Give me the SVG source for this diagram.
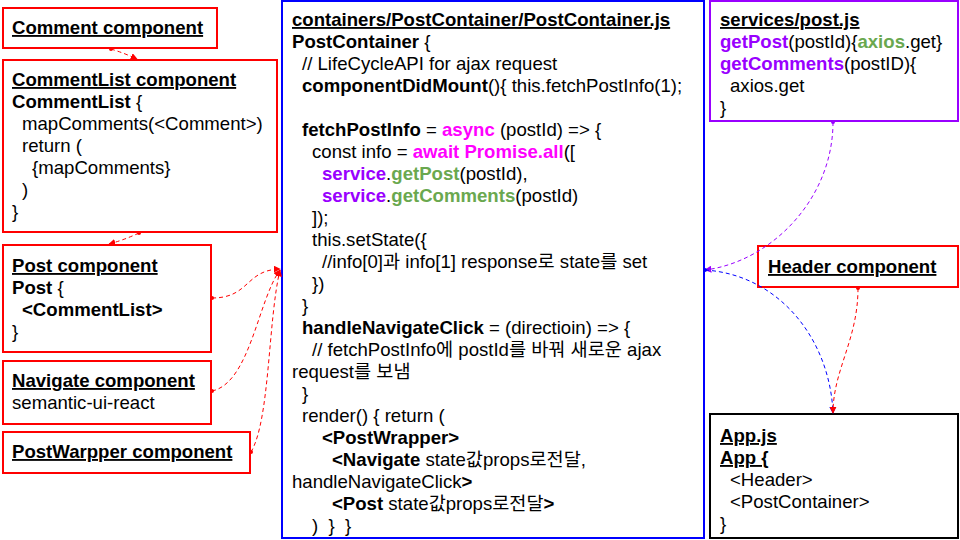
<svg xmlns="http://www.w3.org/2000/svg" width="960" height="540" viewBox="0 0 960 540">
<defs>
<style>
text{font-family:"Liberation Sans","Noto Sans CJK KR",Arial,sans-serif;font-size:18.6px;fill:#000}
.b{font-weight:bold}
.u{text-decoration:underline}
.mg{fill:#ff00ff;font-weight:bold}
.pu{fill:#9900ff;font-weight:bold}
.gr{fill:#6aa84f;font-weight:bold}
.box{fill:#fff;stroke-width:2}
.red{stroke:#ff0000}
.blue{stroke:#0000ff}
.purp{stroke:#9900ff}
.blk{stroke:#000}
.c{fill:none;stroke-width:1;stroke-dasharray:4,3}
</style>
<marker id="ar" viewBox="0 0 10 10" refX="9" refY="5" markerWidth="7" markerHeight="7" orient="auto"><path d="M0,0L10,5L0,10z" fill="#ff0000"/></marker>
<marker id="dr" viewBox="0 0 10 10" refX="5" refY="5" markerWidth="5" markerHeight="5"><circle cx="5" cy="5" r="4" fill="#ff0000"/></marker>
<marker id="ab" viewBox="0 0 10 10" refX="9" refY="5" markerWidth="7" markerHeight="7" orient="auto"><path d="M0,0L10,5L0,10z" fill="#0000ff"/></marker>
<marker id="db" viewBox="0 0 10 10" refX="5" refY="5" markerWidth="5" markerHeight="5"><circle cx="5" cy="5" r="4" fill="#0000ff"/></marker>
<marker id="ap" viewBox="0 0 10 10" refX="9" refY="5" markerWidth="7" markerHeight="7" orient="auto"><path d="M0,0L10,5L0,10z" fill="#9900ff"/></marker>
<marker id="dp" viewBox="0 0 10 10" refX="5" refY="5" markerWidth="5" markerHeight="5"><circle cx="5" cy="5" r="4" fill="#9900ff"/></marker>
</defs>
<rect width="960" height="540" fill="#fff"/>

<g id="comment">
<rect class="box red" x="3" y="8" width="214" height="40"/>
<text x="12" y="34" class="b u">Comment component</text>
</g>

<g id="commentlist">
<rect class="box red" x="3" y="60" width="274" height="172"/>
<text x="12" y="86" class="b u">CommentList component</text>
<text x="12" y="108"><tspan class="b">CommentList</tspan> {</text>
<text x="22" y="130">mapComments(&lt;Comment&gt;)</text>
<text x="22" y="152">return (</text>
<text x="32" y="174">{mapComments}</text>
<text x="22" y="196">)</text>
<text x="12" y="218">}</text>
</g>

<g id="post">
<rect class="box red" x="3" y="245" width="208" height="107"/>
<text x="12" y="272" class="b u">Post component</text>
<text x="12" y="294"><tspan class="b">Post</tspan> {</text>
<text x="22" y="316" class="b">&lt;CommentList&gt;</text>
<text x="12" y="338">}</text>
</g>

<g id="navigate">
<rect class="box red" x="3" y="361" width="208" height="63"/>
<text x="12" y="387" class="b u">Navigate component</text>
<text x="12" y="409">semantic-ui-react</text>
</g>

<g id="postwrapper">
<rect class="box red" x="3" y="432" width="247" height="41"/>
<text x="12" y="458" class="b u">PostWarpper component</text>
</g>

<g id="postcontainer">
<rect class="box blue" x="282" y="1" width="422" height="537"/>
<text x="292" y="26" class="b u">containers/PostContainer/PostContainer.js</text>
<text x="292" y="48"><tspan class="b">PostContainer</tspan> {</text>
<text x="302" y="70">// LifeCycleAPI for ajax request</text>
<text x="302" y="92"><tspan class="b">componentDidMount</tspan>(){ this.fetchPostInfo(1);</text>
<text x="302" y="136"><tspan class="b">fetchPostInfo</tspan> = <tspan class="mg">async</tspan> (postId) =&gt; {</text>
<text x="312" y="158">const info = <tspan class="mg">await Promise.all</tspan>([</text>
<text x="322" y="180"><tspan class="pu">service</tspan>.<tspan class="gr">getPost</tspan>(postId),</text>
<text x="322" y="202"><tspan class="pu">service</tspan>.<tspan class="gr">getComments</tspan>(postId)</text>
<text x="312" y="224">]);</text>
<text x="312" y="246">this.setState({</text>
<text x="322" y="268">//info[0]과 info[1] response로 state를 set</text>
<text x="312" y="290">})</text>
<text x="302" y="312">}</text>
<text x="302" y="334"><tspan class="b">handleNavigateClick</tspan> = (directioin) =&gt; {</text>
<text x="312" y="356">// fetchPostInfo에 postId를 바꿔 새로운 ajax</text>
<text x="292" y="378">request를 보냄</text>
<text x="302" y="400">}</text>
<text x="302" y="422">render() { return (</text>
<text x="322" y="444" class="b">&lt;PostWrapper&gt;</text>
<text x="332" y="466"><tspan class="b">&lt;Navigate</tspan> state값props로전달,</text>
<text x="292" y="488">handleNavigateClick<tspan class="b">&gt;</tspan></text>
<text x="332" y="510"><tspan class="b">&lt;Post</tspan> state값props로전달<tspan class="b">&gt;</tspan></text>
<text x="312" y="532">)&#160;&#160;}&#160;&#160;}</text>
</g>

<g id="services">
<rect class="box purp" x="710" y="1" width="248" height="120"/>
<text x="720" y="26" class="b u">services/post.js</text>
<text x="720" y="48"><tspan class="pu">getPost</tspan>(postId){<tspan class="gr">axios</tspan>.get}</text>
<text x="720" y="70"><tspan class="pu">getComments</tspan>(postID){</text>
<text x="730" y="92">axios.get</text>
<text x="720" y="114">}</text>
</g>

<g id="header">
<rect class="box red" x="758" y="246" width="200" height="41"/>
<text x="768" y="273" class="b u">Header component</text>
</g>

<g id="app">
<rect class="box blk" x="710" y="414" width="248" height="124"/>
<text x="720" y="442" class="b u">App.js</text>
<text x="720" y="464" class="b u">App {</text>
<text x="730" y="486">&lt;Header&gt;</text>
<text x="730" y="508">&lt;PostContainer&gt;</text>
<text x="720" y="530">}</text>
</g>

<g id="connectors">
<path class="c red" d="M111,49 Q124,53 137,59" marker-start="url(#dr)" marker-end="url(#ar)"/>
<path class="c red" d="M139,233 Q124,240 109,244" marker-start="url(#dr)" marker-end="url(#ar)"/>
<path class="c red" d="M212,298 C250,298 245,270 280,269" marker-start="url(#dr)" marker-end="url(#ar)"/>
<path class="c red" d="M212,391 C250,383 258,300 280,270" marker-start="url(#dr)" marker-end="url(#ar)"/>
<path class="c red" d="M251,452 C270,420 268,320 280,270" marker-start="url(#dr)" marker-end="url(#ar)"/>
<path class="c purp" d="M833,122 C833,200 770,262 705,270" marker-start="url(#dp)" marker-end="url(#ap)"/>
<path class="c blue" d="M705,270 C780,275 830,340 833,413" marker-start="url(#db)" marker-end="url(#ab)"/>
<path class="c red" d="M858,288 C858,340 833,370 833,413" marker-start="url(#dr)" marker-end="url(#ar)"/>
</g>
</svg>
